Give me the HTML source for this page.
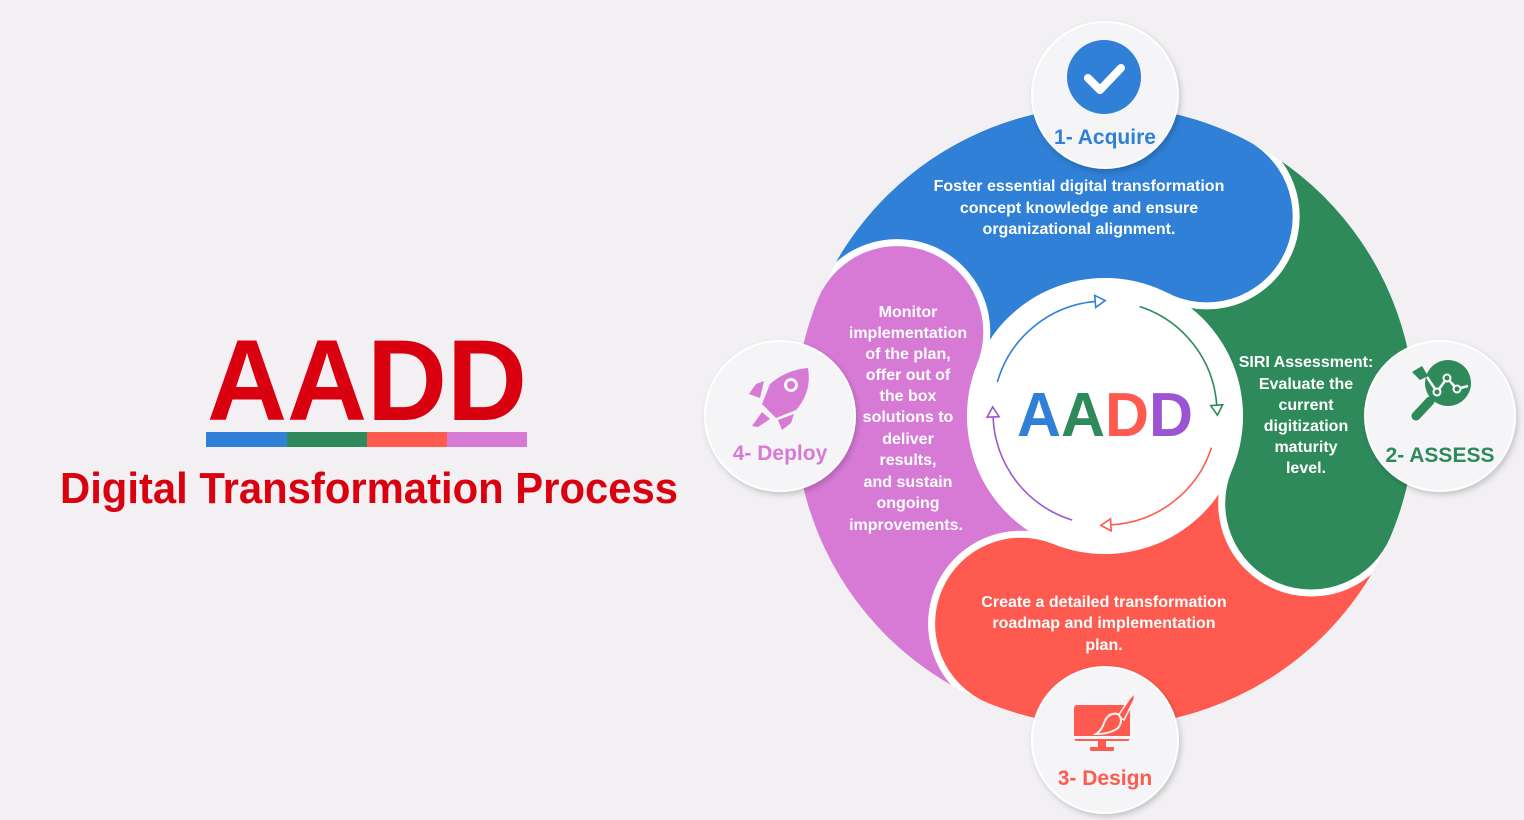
<!DOCTYPE html>
<html><head><meta charset="utf-8">
<style>
html,body{margin:0;padding:0;background:#f2f0f3;}
svg{display:block;}
text{font-family:"Liberation Sans","DejaVu Sans",sans-serif;font-weight:bold;}
</style></head>
<body>
<svg id="s" width="1524" height="820" viewBox="0 0 1524 820" xmlns="http://www.w3.org/2000/svg">
<defs>
<filter id="sh" x="-30%" y="-30%" width="160%" height="160%">
<feDropShadow dx="2" dy="3" stdDeviation="3" flood-color="#000" flood-opacity="0.18"/>
</filter>
<clipPath id="oc"><circle cx="1105" cy="416" r="310"/></clipPath>
</defs>
<rect width="1524" height="820" fill="#f2f0f3"/>

<text x="207" y="420" font-size="115" fill="#d9000f" textLength="320" lengthAdjust="spacingAndGlyphs">AADD</text>
<rect x="206" y="432" width="81" height="15" fill="#2f80d6"/>
<rect x="287" y="432" width="80" height="15" fill="#2e8a5b"/>
<rect x="367" y="432" width="80" height="15" fill="#ff5a4f"/>
<rect x="447" y="432" width="80" height="15" fill="#d67ad6"/>
<text x="60" y="503" font-size="44" fill="#d9000f" textLength="618" lengthAdjust="spacingAndGlyphs">Digital Transformation Process</text>

<g id="bands" clip-path="url(#oc)"></g>
<circle cx="1105" cy="416" r="138" fill="#ffffff"/>
<g id="arrows" fill="none" stroke-width="1.6"></g>

<text x="1105" y="436" font-size="62" text-anchor="middle" textLength="176" lengthAdjust="spacingAndGlyphs"><tspan fill="#2f80d6">A</tspan><tspan fill="#2e8a5b">A</tspan><tspan fill="#ff5a4f">D</tspan><tspan fill="#9b55d3">D</tspan></text>

<g fill="#ffffff" font-size="16" text-anchor="middle">
<text x="1079" y="191">Foster essential digital transformation</text>
<text x="1079" y="213">concept knowledge and ensure</text>
<text x="1079" y="234">organizational alignment.</text>

<text x="1306" y="367">SIRI Assessment:</text>
<text x="1306" y="389">Evaluate the</text>
<text x="1306" y="410">current</text>
<text x="1306" y="431">digitization</text>
<text x="1306" y="452">maturity</text>
<text x="1306" y="473">level.</text>

<text x="908" y="317">Monitor</text>
<text x="908" y="338">implementation</text>
<text x="908" y="359">of the plan,</text>
<text x="908" y="380">offer out of</text>
<text x="908" y="401">the box</text>
<text x="908" y="422">solutions to</text>
<text x="908" y="444">deliver</text>
<text x="908" y="465">results,</text>
<text x="908" y="487">and sustain</text>
<text x="908" y="508">ongoing</text>
<text x="906" y="530">improvements.</text>

<text x="1104" y="607">Create a detailed transformation</text>
<text x="1104" y="628">roadmap and implementation</text>
<text x="1104" y="650">plan.</text>
</g>

<g filter="url(#sh)" fill="#f5f4f6" stroke="#ffffff" stroke-width="2">
<circle cx="1105" cy="95" r="73"/>
<circle cx="1440" cy="416" r="75"/>
<circle cx="1105" cy="740" r="73"/>
<circle cx="780" cy="416" r="75"/>
</g>

<circle cx="1104" cy="77" r="37" fill="#2f80d6"/>
<path d="M1088 78 L1100 90 L1121 68" fill="none" stroke="#fff" stroke-width="8" stroke-linecap="round" stroke-linejoin="round"/>
<text x="1105" y="144" font-size="21" fill="#2f80d6" text-anchor="middle">1- Acquire</text>

<g>
<circle cx="1448" cy="383" r="23" fill="#2e8a5b"/>
<line x1="1430" y1="401" x2="1416" y2="416" stroke="#2e8a5b" stroke-width="9" stroke-linecap="round"/>
<path d="M1427 377 L1437 392 L1447 378 L1457 389 L1468 386" fill="none" stroke="#fff" stroke-width="2.5"/>
<circle cx="1437" cy="392" r="3.5" fill="#2e8a5b" stroke="#fff" stroke-width="2"/>
<circle cx="1447" cy="378" r="3.5" fill="#2e8a5b" stroke="#fff" stroke-width="2"/>
<circle cx="1457" cy="389" r="3.5" fill="#2e8a5b" stroke="#fff" stroke-width="2"/>
<path d="M1412 372 L1422 366 L1428 376 L1420 380 Z" fill="#2e8a5b"/>
</g>
<text x="1440" y="462" font-size="21" fill="#2e8a5b" text-anchor="middle">2- ASSESS</text>

<g fill="#ff5a4f">
<rect x="1074" y="705" width="56" height="36" rx="3"/>
<rect x="1074" y="736" width="56" height="3" fill="#f5f4f6"/>
<rect x="1098" y="741" width="8" height="7"/>
<rect x="1090" y="747" width="24" height="4" rx="1"/>
<path d="M1118 716 L1130 698 L1135 693 L1134 700 L1124 720 Z" fill="#ff5a4f" stroke="#f5f4f6" stroke-width="1.5"/>
<path d="M1104 723 Q1108 712 1118 714 Q1124 720 1118 728 Q1110 734 1096 734 Q1102 730 1104 723 Z" fill="#ff5a4f" stroke="#f5f4f6" stroke-width="2"/>
</g>
<text x="1105" y="785" font-size="21" fill="#ff5a4f" text-anchor="middle">3- Design</text>

<g fill="#d67ad6">
<path d="M808 368 Q812 392 796 410 L776 418 L762 404 L770 384 Q786 370 808 368 Z"/>
<circle cx="791" cy="385" r="5.5" fill="none" stroke="#f5f4f6" stroke-width="3"/>
<path d="M764 381 L756 384 L749 394 L760 398 Z"/>
<path d="M794 414 L791 423 L782 430 L778 420 Z"/>
<path d="M762 412 L770 419 L758 427 L752 426 Z"/>
</g>
<text x="780" y="460" font-size="21" fill="#d67ad6" text-anchor="middle">4- Deploy</text>

<script>
(function(){
var NS="http://www.w3.org/2000/svg";
var cx=1105,cy=416,R=310,r=138,hr=(R-r)/2;
var g=document.getElementById("bands");
function P(rad,a){a=a*Math.PI/180;return (cx+rad*Math.cos(a))+" "+(cy+rad*Math.sin(a));}
function sector(a1,a2,col){
  var p=document.createElementNS(NS,"path");
  p.setAttribute("d","M"+P(R,a1)+" A"+R+" "+R+" 0 0 1 "+P(R,a2)+" L"+P(r,a2)+" A"+r+" "+r+" 0 0 0 "+P(r,a1)+" Z");
  p.setAttribute("fill",col);g.appendChild(p);
}
function circ(x,y,rr,col){
  var c=document.createElementNS(NS,"circle");
  c.setAttribute("cx",x);c.setAttribute("cy",y);c.setAttribute("r",rr);c.setAttribute("fill",col);g.appendChild(c);
}
function head(a2,col){
  var a=a2*Math.PI/180,x=cx+(r+hr)*Math.cos(a),y=cy+(r+hr)*Math.sin(a);
  circ(x,y,hr+7,"#fff");
  sector(a2-40,a2,col);
  circ(x,y,hr,col);
}
var B="#2f80d6",G="#2e8a5b",Rd="#ff5a4f",Pu="#d67ad6";
sector(-160,-60,B);
sector(110,205,Pu);
sector(20,115,Rd);
sector(-65,25,G);
head(202,Pu);
head(112,Rd);
head(23,G);
head(-63,B);
var ar=112,acy=413;
function arc(a1,a2,col){
  var a=[cx+ar*Math.cos(a1*Math.PI/180),acy+ar*Math.sin(a1*Math.PI/180)];
  var b=[cx+ar*Math.cos(a2*Math.PI/180),acy+ar*Math.sin(a2*Math.PI/180)];
  var p=document.createElementNS(NS,"path");
  p.setAttribute("d","M"+a[0]+" "+a[1]+" A"+ar+" "+ar+" 0 0 1 "+b[0]+" "+b[1]);
  p.setAttribute("stroke",col);
  document.getElementById("arrows").appendChild(p);
  var t=(a2+90)*Math.PI/180,n=a2*Math.PI/180;
  var tip=[b[0]+10*Math.cos(t),b[1]+10*Math.sin(t)];
  var l=[b[0]+6*Math.cos(n),b[1]+6*Math.sin(n)],rr=[b[0]-6*Math.cos(n),b[1]-6*Math.sin(n)];
  var q=document.createElementNS(NS,"polygon");
  q.setAttribute("points",tip+" "+l+" "+rr);
  q.setAttribute("fill","#fff");q.setAttribute("stroke",col);q.setAttribute("stroke-width","1.6");
  document.getElementById("arrows").appendChild(q);
}
arc(196,265,B);arc(288,356,G);arc(18,87,Rd);arc(107,178,"#9b55d3");
})();
</script>
</svg>
</body></html>
